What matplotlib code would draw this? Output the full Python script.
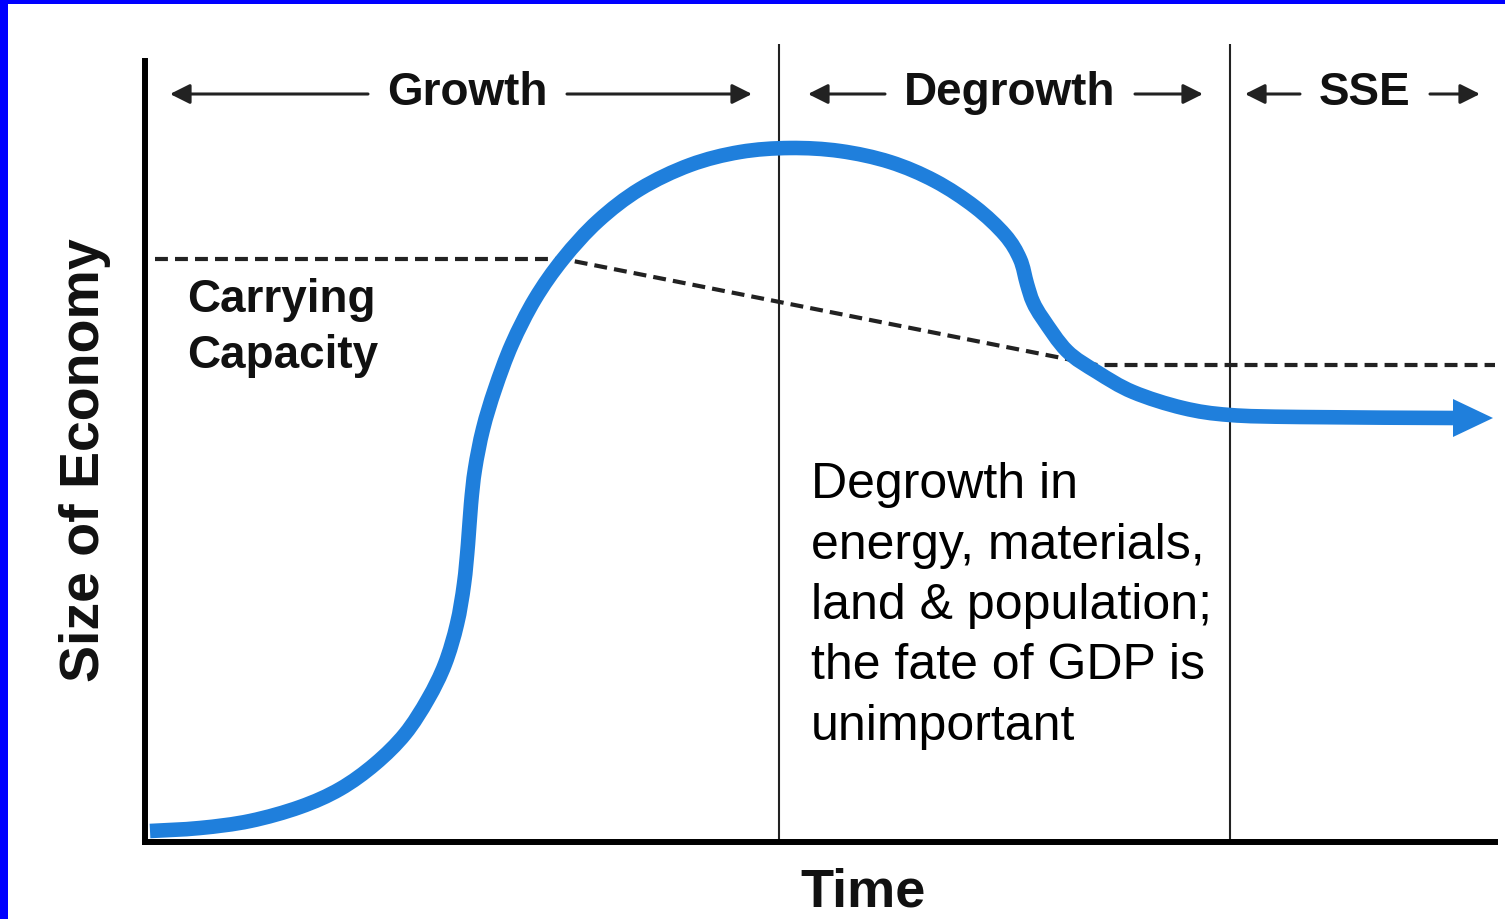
import matplotlib.pyplot as plt
import numpy as np
from matplotlib.patches import Rectangle, PathPatch
from matplotlib.path import Path

plt.rcParams['font.family'] = ['Liberation Sans', 'DejaVu Sans']

# curve of economy size over time (arbitrary units)
time = [5, 55, 105, 155, 195, 230, 260, 283, 300, 312, 319, 323, 326, 330,
        338, 350, 367, 390, 418, 453, 495, 545, 595, 645, 695, 745, 790,
        830, 860, 875, 882, 888, 898, 922, 952, 988, 1038, 1085, 1155, 1308]
size = [11, 14, 21, 35, 53, 78, 108, 143, 178, 218, 258, 298, 338, 373,
        413, 453, 498, 543, 583, 621, 653, 677, 690, 694, 691, 680, 661,
        635, 607, 583, 558, 540, 523, 491, 470, 450, 434, 427, 425, 424]

# carrying capacity (dashed)
cap_time = [10, 418, 952, 1350]
cap_size = [583, 583, 477, 477]

# phase boundaries
boundaries = [634, 1085]

# phase headers: label, centre, left arrow (tail, head), right arrow (tail, head)
phases = ["Growth", "Degrowth", "SSE"]
phase_centre = [322, 865, 1220]
left_arrows = [(223, 25), (740, 663), (1155, 1100)]
right_arrows = [(422, 607), (990, 1058), (1285, 1335)]

note = ("Degrowth in\nenergy, materials,\nland & population;\n"
        "the fate of GDP is\nunimportant")

blue = '#1f7fdc'


def smooth_path(xs, ys):
    # Catmull-Rom through the points, drawn as cubic Bezier segments
    p = np.column_stack([xs, ys]).astype(float)
    p = np.vstack([p[0], p, p[-1]])
    verts = [p[1]]
    codes = [Path.MOVETO]
    for i in range(1, len(p) - 2):
        c1 = p[i] + (p[i + 1] - p[i - 1]) / 6
        c2 = p[i + 1] - (p[i + 2] - p[i]) / 6
        verts += [c1, c2, p[i + 1]]
        codes += [Path.CURVE4] * 3
    return Path(verts, codes)


fig = plt.figure(figsize=(15.05, 9.2), dpi=100)
ax = fig.add_axes([145 / 1505, 77 / 920, 1350 / 1505, 798 / 920])
ax.set_xlim(0, 1350)
ax.set_ylim(0, 798)
ax.set_xticks([])
ax.set_yticks([])
for side in ['top', 'right']:
    ax.spines[side].set_visible(False)
ax.spines['left'].set_linewidth(4.3)
ax.spines['bottom'].set_linewidth(4.3)
ax.spines['left'].set_bounds(0, 781)
ax.patch.set_alpha(0)

for b in boundaries:
    ax.axvline(b, color='#222222', lw=1.5, zorder=1)

ax.plot(cap_time, cap_size, color='#222222', lw=3, dashes=(3.1, 1.7), zorder=2)

ax.add_patch(PathPatch(smooth_path(time, size), fill=False, edgecolor=blue,
                       lw=10.5, capstyle='butt', joinstyle='round', zorder=3))
# arrowhead at the end of the curve
tx, ty = time[-1], size[-1]
ax.fill([tx, tx, tx + 40, tx], [ty - 19, ty + 19, ty, ty - 19],
        color=blue, lw=0, zorder=3)

for label, c, la, ra in zip(phases, phase_centre, left_arrows, right_arrows):
    ax.text(c, 750, label, ha='center', va='center', fontsize=33,
            fontweight='bold', color='#111111')
    for tail, head in (la, ra):
        ax.annotate('', xy=(head, 748), xytext=(tail, 748),
                    arrowprops=dict(arrowstyle='-|>,head_length=0.6,head_width=0.3',
                                    color='#222222', lw=2.2,
                                    mutation_scale=20, shrinkA=0, shrinkB=0))

ax.text(42, 515, "Carrying\nCapacity", ha='left', va='center', fontsize=33,
        fontweight='bold', color='#111111', linespacing=1.33)

ax.text(666, 237, note, ha='left', va='center', fontsize=36, color='black',
        linespacing=1.40)

ax.text(718, -50, "Time", ha='center', va='center', fontsize=39,
        fontweight='bold', color='#111111', clip_on=False)
ax.text(-60, 383, "Size of Economy", ha='center', va='center', fontsize=40,
        fontweight='bold', color='#111111', rotation=90, clip_on=False)

# blue frame on left and top edges
fig.add_artist(Rectangle((0, 0), 8 / 1505, 1, transform=fig.transFigure,
                         color='#0000ff', lw=0))
fig.add_artist(Rectangle((0, 1 - 5 / 920), 1, 5 / 920, transform=fig.transFigure,
                         color='#0000ff', lw=0))

fig.savefig('out.png', dpi=100)
